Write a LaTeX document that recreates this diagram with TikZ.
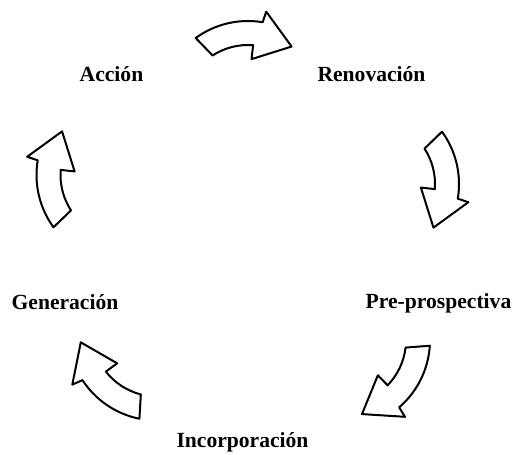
\documentclass[tikz,border=0pt]{standalone}
\usepackage{fontspec}
\setmainfont{Liberation Serif}
\begin{document}
\begin{tikzpicture}[x=0.5pt,y=0.5pt,
    stage/.style={anchor=base,font=\fontsize{10.8}{13}\selectfont\bfseries},
    cyclearrow/.style={draw=black,fill=white,line width=1pt,line join=round}]
  \useasboundingbox (0,0) rectangle (518,454);
  \node[stage] (accion) at (111.5,372) {Acción};
  \node[stage] (renov) at (371.5,372) {Renovación};
  \node[stage] (prepro) at (438.5,145) {Pre-prospectiva};
  \node[stage] (incorp) at (242.5,6) {Incorporación};
  \node[stage] (gener) at (65,144) {Generación};
  % curved block arrows, clockwise round the cycle
  \foreach \cx/\cy/\rot in {248/344/0, 370/270/-90, 341/114/-129.7, 157/122.5/132.6, 125.5/279/90}{
    \begin{scope}[shift={(\cx,\cy)},rotate=\rot]
      \draw[cyclearrow] (126:89) arc[start angle=126,end angle=80.5,radius=89]
        -- (79.5:100) -- (55.5:77) -- (86:51) -- (85.5:65)
        arc[start angle=85.5,end angle=123,radius=65] -- cycle;
    \end{scope}
  }
\end{tikzpicture}
\end{document}
